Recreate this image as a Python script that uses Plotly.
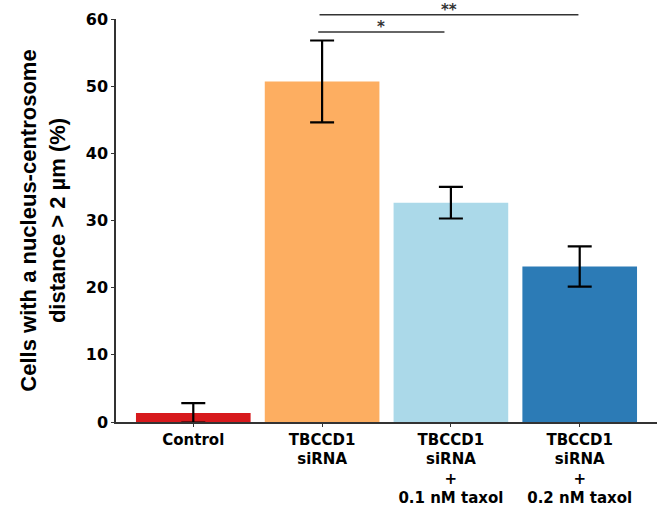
import plotly.graph_objects as go

categories = ["Control", "TBCCD1<br>siRNA", "TBCCD1<br>siRNA<br>+<br>0.1 nM taxol", "TBCCD1<br>siRNA<br>+<br>0.2 nM taxol"]
means = [1.35, 50.7, 32.65, 23.15]
errors = [1.45, 6.1, 2.35, 3.0]
bar_colors = ["#d7191c", "#fdae61", "#abd9e9", "#2c7bb6"]
y_ticks = [0, 10, 20, 30, 40, 50, 60]
y_max = 60

# significance brackets: (start x, end x, y value, label)
bracket_start = [0.97, 0.98]
bracket_end = [1.95, 2.99]
bracket_y = [58.06, 60.64]
bracket_label = ["*", "**"]

x_idx = list(range(len(categories)))

fig = go.Figure()
fig.add_trace(go.Bar(
    x=x_idx, y=means,
    marker=dict(color=bar_colors, line=dict(width=0)),
    error_y=dict(type="data", array=errors, color="black", thickness=2.2, width=12),
    width=0.89,
))

for xs, xe, yv, lab in zip(bracket_start, bracket_end, bracket_y, bracket_label):
    fig.add_shape(
        type="line", xref="x", yref="paper",
        x0=xs, x1=xe, y0=yv / y_max, y1=yv / y_max,
        line=dict(color="#333333", width=1.6),
    )
    fig.add_annotation(
        x=(xs + xe) / 2, xref="x", y=yv / y_max, yref="paper",
        text="<b>" + lab + "</b>", showarrow=False,
        yanchor="bottom", yshift=-6,
        font=dict(family="DejaVu Sans", size=15, color="#333333"),
    )

fig.update_layout(
    width=667, height=508,
    margin=dict(l=116, r=10, t=19, b=86),
    plot_bgcolor="white", paper_bgcolor="white",
    showlegend=False,
    font=dict(family="Liberation Sans", color="black"),
    xaxis=dict(
        range=[-0.6, 3.6], automargin=False,
        tickmode="array", tickvals=x_idx,
        ticktext=["<b>" + c.replace("<br>", "</b><br><b>") + "</b>" for c in categories],
        showline=True, linecolor="#333333", linewidth=1.5,
        ticks="outside", ticklen=3, tickcolor="#333333",
        tickfont=dict(size=15, family="DejaVu Sans", color="black"),
        showgrid=False, zeroline=False,
    ),
    yaxis=dict(
        range=[0, y_max], automargin=False,
        tickmode="array", tickvals=y_ticks,
        ticktext=["<b>%d</b>" % t for t in y_ticks],
        showline=True, linecolor="#333333", linewidth=1.5,
        ticks="outside", ticklen=3, tickcolor="#333333",
        tickfont=dict(size=16, family="DejaVu Sans", color="black"),
        showgrid=False, zeroline=False,
        title=dict(
            text="<b>Cells with a nucleus-centrosome<br>distance > 2 µm (%)</b>",
            font=dict(size=22, family="Liberation Sans", color="black"),
            standoff=14,
        ),
    ),
)

fig.write_html("out.html")
